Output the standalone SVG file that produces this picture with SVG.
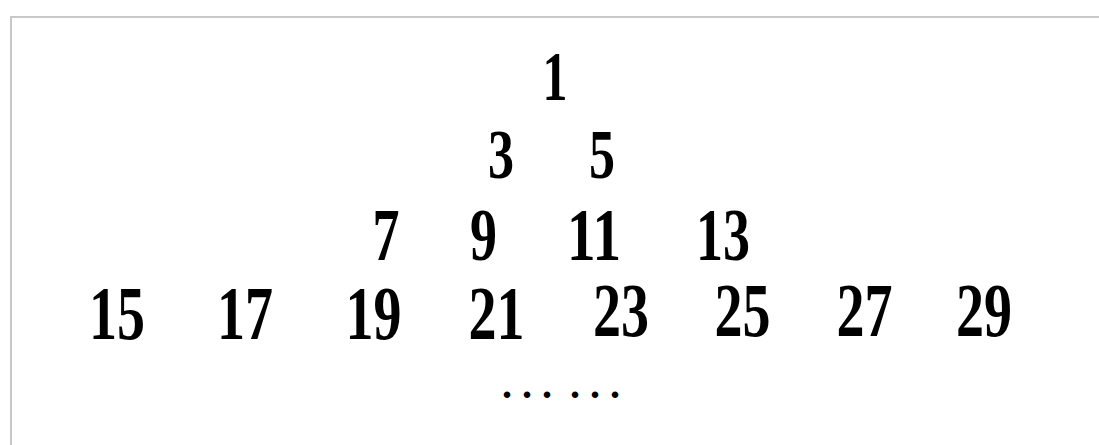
<svg xmlns="http://www.w3.org/2000/svg" width="1099" height="445" viewBox="0 0 1099 445">
<style>
.n{font-family:"Liberation Serif","Times New Roman",serif;font-weight:bold;fill:#000;}
.r1{font-size:70px;}
.r3{font-size:74px;}
.r4{font-size:77px;}
.d{font-family:"Liberation Serif",serif;font-weight:bold;font-size:40px;letter-spacing:10px;fill:#000;}
</style>
<rect width="1099" height="445" fill="#fff"/>
<path d="M11,445 V17 H1099" fill="none" stroke="#c8c8c8" stroke-width="2"/>
<g id="row1">
<text class="n r1" x="542.5" y="100" textLength="25" lengthAdjust="spacingAndGlyphs">1</text>
</g>
<g id="row2">
<text class="n r1" x="488" y="178" textLength="26" lengthAdjust="spacingAndGlyphs">3</text>
<text class="n r1" x="589" y="178" textLength="26" lengthAdjust="spacingAndGlyphs">5</text>
</g>
<g id="row3">
<text class="n r3" x="372.5" y="260" textLength="27" lengthAdjust="spacingAndGlyphs">7</text>
<text class="n r3" x="470" y="260" textLength="27" lengthAdjust="spacingAndGlyphs">9</text>
<text class="n r3" x="567" y="260" textLength="54" lengthAdjust="spacingAndGlyphs">11</text>
<text class="n r3" x="696" y="260" textLength="54" lengthAdjust="spacingAndGlyphs">13</text>
</g>
<g id="row4">
<text class="n r4" x="89" y="339" textLength="56" lengthAdjust="spacingAndGlyphs">15</text>
<text class="n r4" x="217" y="339" textLength="56" lengthAdjust="spacingAndGlyphs">17</text>
<text class="n r4" x="345.5" y="339" textLength="56" lengthAdjust="spacingAndGlyphs">19</text>
<text class="n r4" x="468.5" y="339" textLength="56" lengthAdjust="spacingAndGlyphs">21</text>
<text class="n r4" x="593" y="336" textLength="56" lengthAdjust="spacingAndGlyphs">23</text>
<text class="n r4" x="714.5" y="336" textLength="56" lengthAdjust="spacingAndGlyphs">25</text>
<text class="n r4" x="836.5" y="336" textLength="56" lengthAdjust="spacingAndGlyphs">27</text>
<text class="n r4" x="956" y="336" textLength="56" lengthAdjust="spacingAndGlyphs">29</text>
</g>
<g id="ellipsis">
<text class="d" x="502" y="398">...</text>
<text class="d" x="570" y="398">...</text>
</g>
<g id="connectors"></g>
</svg>
